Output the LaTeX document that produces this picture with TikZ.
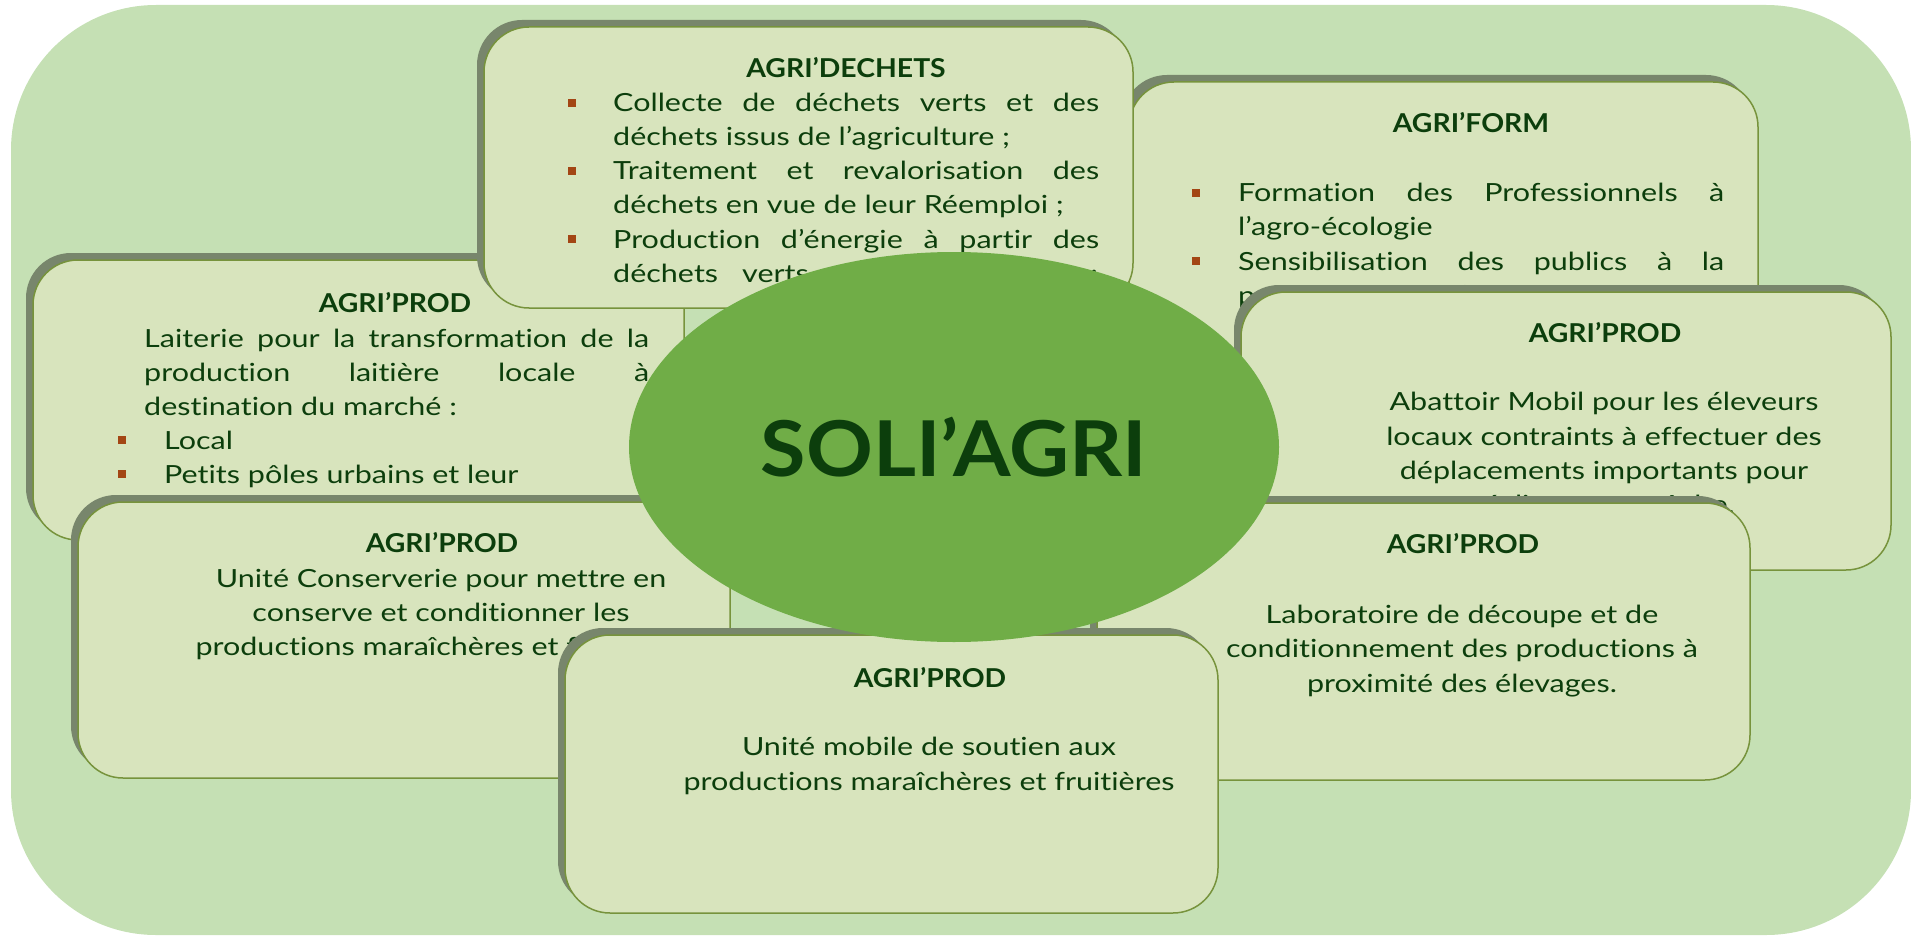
\documentclass[tikz,border=0pt]{standalone}
\usepackage{fontspec}
\setmainfont{Lato}
\newfontfamily\bodyfont{Lato}[FakeStretch=1.22,Ligatures={TeX,NoCommon}]
\newfontfamily\headfont{Lato}[FakeStretch=1.09,Ligatures={TeX,NoCommon}]
\newfontfamily\corefont{Lato}[FakeStretch=1.075]
\usetikzlibrary{shapes.geometric}
\definecolor{bgc}{RGB}{197,224,180}
\definecolor{boxc}{RGB}{216,228,189}
\definecolor{edgec}{RGB}{119,147,60}
\definecolor{shadc}{RGB}{120,134,108}
\definecolor{ellc}{RGB}{112,173,71}
\definecolor{txtc}{RGB}{12,62,12}
\definecolor{bulc}{RGB}{163,70,20}
\tikzset{
  card/.style={draw=edgec, line width=1.5pt, fill=boxc, rounded corners=45pt, inner sep=0pt, outer sep=0pt},
  cardshadow/.style={fill=shadc, rounded corners=45pt, inner sep=0pt, outer sep=0pt},
  ttl/.style={font=\headfont\fontsize{26}{34}\selectfont\bfseries, text=txtc, anchor=base, inner sep=0pt},
  body/.style={font=\bodyfont\fontsize{25}{34}\selectfont, text=txtc, anchor=base west, inner sep=0pt},
  bodyc/.style={font=\bodyfont\fontsize{25}{34}\selectfont, text=txtc, anchor=base, inner sep=0pt},
  bul/.style={fill=bulc},
}
\newcommand{\mkcard}[5]{%
  \node[cardshadow, minimum width=#4pt, minimum height=#5pt] (#1s) at (#2-7,#3-7) {};
  \node[card, minimum width=#4pt, minimum height=#5pt] (#1) at (#2,#3) {};}
\newcommand{\bsq}[2]{\fill[bul] (#1-4.25,#2-13.25) rectangle ++(8.5,8.5);}
\begin{document}
\begin{tikzpicture}[x=1pt,y=-1pt]
\useasboundingbox (0,0) rectangle (1911,936);
\path[fill=bgc, rounded corners=145pt] (11,5) rectangle (1911,935);

% left AGRI'PROD (Laiterie)
\mkcard{lp}{358.5}{400}{651}{280}
\node[ttl] (lpt) at (395,312) {AGRI’PROD};
\node[body] (lp1) at (144,347) {\makebox[505pt][s]{Laiterie pour la transformation de la}};
\node[body] (lp2) at (144,381) {\makebox[505pt][s]{production laitière locale à}};
\node[body] (lp3) at (144,415) {destination du marché :};
\bsq{122}{449}\bsq{122}{483}
\node[body] (lp4) at (164,449) {Local};
\node[body] (lp5) at (164,483) {Petits pôles urbains et leur};

% AGRI'FORM
\mkcard{fo}{1443.5}{222}{629}{280}
\node[ttl] (fot) at (1471,133) {AGRI’FORM};
\bsq{1196}{202}\bsq{1196}{270}
\node[body] (fo1) at (1238,202) {\makebox[486pt][s]{Formation des Professionnels à}};
\node[body] (fo2) at (1238,236) {l’agro-écologie};
\node[body] (fo3) at (1238,270) {\makebox[486pt][s]{Sensibilisation des publics à la}};
\node[body] (fo4) at (1238,304) {préservation de l’environnement};

% AGRI'DECHETS
\mkcard{de}{808.5}{167.5}{649}{281}
\node[ttl] (det) at (846,78) {AGRI’DECHETS};
\bsq{572}{112}\bsq{572}{180}\bsq{572}{248}
\node[body] (de1) at (613,112) {\makebox[486pt][s]{Collecte de déchets verts et des}};
\node[body] (de2) at (613,146) {déchets issus de l’agriculture ;};
\node[body] (de3) at (613,180) {\makebox[486pt][s]{Traitement et revalorisation des}};
\node[body] (de4) at (613,214) {déchets en vue de leur Réemploi ;};
\node[body] (de5) at (613,248) {\makebox[486pt][s]{Production d’énergie à partir des}};
\node[body] (de6) at (613,282) {déchets};
\node[body] (de7) at (742,282) {verts};
\node[body] (de8) at (1090,282) {;};

% Abattoir
\mkcard{ab}{1566}{431}{650}{278}
\node[ttl] (abt) at (1605,342) {AGRI’PROD};
\node[bodyc] (ab1) at (1604,410) {Abattoir Mobil pour les éleveurs};
\node[bodyc] (ab2) at (1604,445) {locaux contraints à effectuer des};
\node[bodyc] (ab3) at (1604,479) {déplacements importants pour};
\node[bodyc] (ab4) at (1604,513) {réaliser cette tâche.};

% Conserverie
\mkcard{co}{404}{640}{652}{276}
\node[ttl] (cot) at (442,552) {AGRI’PROD};
\node[bodyc] (co1) at (441,587) {Unité Conserverie pour mettre en};
\node[bodyc] (co2) at (441,621) {conserve et conditionner les};
\node[bodyc] (co3) at (441,655) {productions maraîchères et fruitières};

% Laboratoire
\mkcard{la}{1423.5}{641.5}{653}{277}
\node[ttl] (lat) at (1463,553) {AGRI’PROD};
\node[bodyc] (la1) at (1462,623) {Laboratoire de découpe et de};
\node[bodyc] (la2) at (1462,657) {conditionnement des productions à};
\node[bodyc] (la3) at (1462,692) {proximité des élevages.};

% Bottom
\mkcard{bo}{891.5}{774}{653}{278}
\node[ttl] (bot) at (930,687) {AGRI’PROD};
\node[bodyc] (bo1) at (929,755) {Unité mobile de soutien aux};
\node[bodyc] (bo2) at (929,790) {productions maraîchères et fruitières};

% centre
\node[ellipse, fill=ellc, minimum width=650pt, minimum height=390pt, inner sep=0pt,
      font=\corefont\fontsize{77}{80}\selectfont\bfseries, text=txtc] (core) at (954,447) {SOLI’AGRI};
\end{tikzpicture}
\end{document}
